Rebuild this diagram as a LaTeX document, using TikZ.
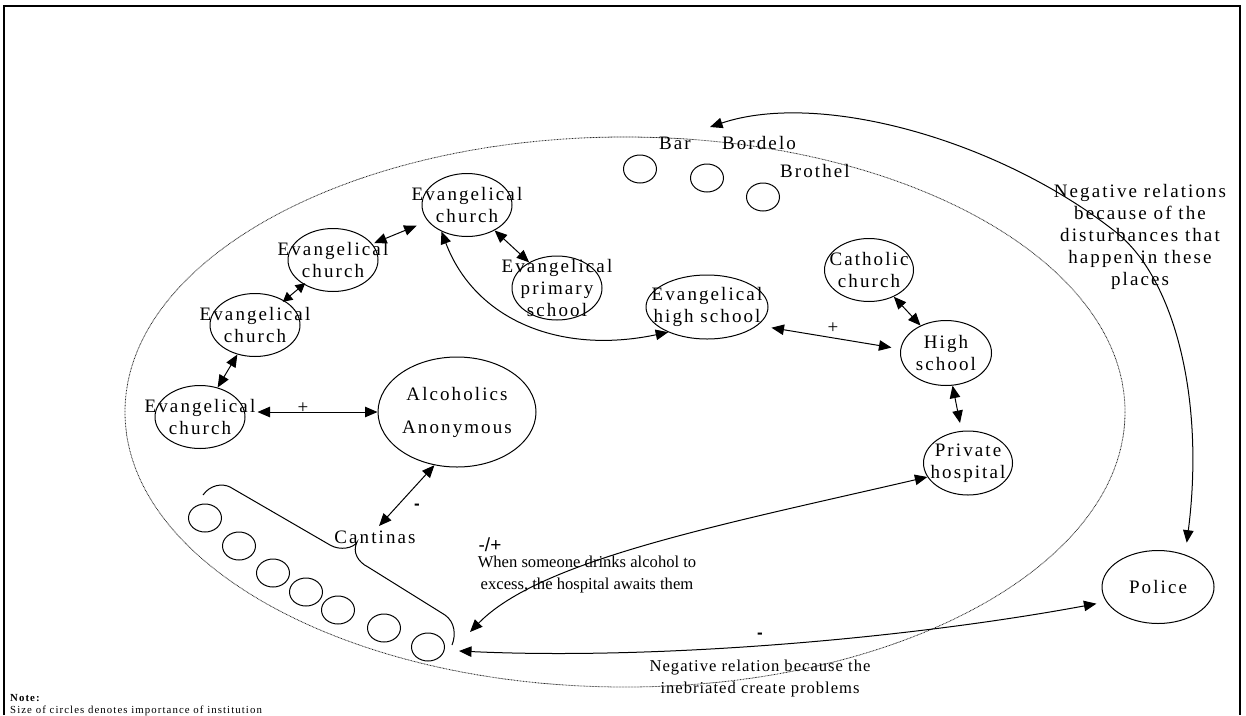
\documentclass[tikz,border=0pt]{standalone}
\usepackage{fontspec}
\setmainfont{Liberation Serif}
\newfontfamily\spc[LetterSpace=11]{Liberation Serif}
\newfontfamily\spcsmall[LetterSpace=10]{Liberation Serif}
\newfontfamily\spcnote[LetterSpace=6]{Liberation Serif}
\newfontfamily\signfont{Liberation Sans}
\usetikzlibrary{shapes.geometric,arrows.meta}

\begin{document}
\begin{tikzpicture}[x=1pt,y=-1pt,
  inst/.style 2 args={ellipse,draw,line width=1pt,inner sep=0pt,minimum width=#1,minimum height=#2},
  spot/.style={ellipse,draw,line width=1pt,inner sep=0pt,minimum width=33,minimum height=28},
  txt/.style={align=center,inner sep=0pt,font=\spc\fontsize{19}{22}\selectfont},
  note/.style={align=center,inner sep=0pt,font=\fontsize{16.6}{22}\selectfont},
  sign/.style={inner sep=0pt,font=\signfont\fontsize{17}{18}\selectfont},
  link/.style={line width=1pt,{Triangle[length=12.5pt,width=10.5pt]}-{Triangle[length=12.5pt,width=10.5pt]}},
  shortlink/.style={line width=1pt,{Triangle[length=9.5pt,width=10pt]}-{Triangle[length=9.5pt,width=10pt]}}]
\useasboundingbox (0,0) rectangle (1246,715);
% frame and the neighbourhood
\draw[line width=2pt] (4,715) |- (1240,6) -- (1240,715);
\draw[line width=0.8pt,black!85,dash pattern=on 0.8pt off 0.7pt] (625,412) ellipse [x radius=500,y radius=275];

% institutions
\node[inst={90}{63},label={[txt]center:{Evangelical\\church}}] (ev1) at (200,417) {};
\node[inst={90}{63},label={[txt]center:{Evangelical\\church}}] (ev2) at (255,325) {};
\node[inst={90}{63},label={[txt]center:{Evangelical\\church}}] (ev3) at (333,260) {};
\node[inst={90}{63},label={[txt]center:{Evangelical\\church}}] (ev4) at (467,205) {};
\node[inst={90}{64},label={[txt]center:{Evangelical\\primary\\school}}] (evp) at (557,288) {};
\node[inst={122}{64},label={[txt]center:{Evangelical\\high school}}] (evh) at (707,307) {};
\node[inst={89}{63},label={[txt]center:{Catholic\\church}}] (cath) at (869,270) {};
\node[inst={91}{65},label={[txt]center:{High\\school}}] (hs) at (946,353) {};
\node[inst={89}{64},label={[txt]center:{Private\\hospital}}] (ph) at (968,463) {};
\node[inst={158}{110},label={[txt,font=\spc\fontsize{19}{33}\selectfont]center:{Alcoholics\\Anonymous}}] (aa) at (457,412) {};
\node[inst={112}{73},label={[txt]center:Police}] (pol) at (1158,587) {};

% bars
\node[spot] (barc) at (640,169) {};
\node[spot] (bordc) at (707,178) {};
\node[spot] (brothc) at (763,197) {};
\node[txt] (bar) at (675,143) {Bar};
\node[txt] (bordelo) at (759,143) {Bordelo};
\node[txt] (brothel) at (815,171) {Brothel};
\coordinate (bartip) at (710,127);

% cantinas
\foreach \x/\y [count=\i] in {205/518,239/546,273/573,306/592,338/610,384/628,428/647}
  \node[spot] (c\i) at (\x,\y) {};
\draw[line width=1pt] (203,495) .. controls (210,485) and (222,483) .. (230,487) -- (330,545)
  .. controls (340,551) and (354,548) .. (357,542) .. controls (352,552) and (358,562) .. (368,567)
  -- (445,615) .. controls (455,622) and (456,635) .. (452,645);
\node[txt] (cant) at (375,537) {Cantinas};
\coordinate (cantA) at (470,632);
\coordinate (cantB) at (459,651);

% relations
\draw[link] (ev1) -- (ev2);
\draw[shortlink,shorten <=-2pt,shorten >=-2pt] (ev2) -- (ev3);
\draw[link,shorten <=2pt,shorten >=12pt] (ev3) -- (ev4);
\draw[link] (ev4) -- (evp);
\draw[link] ([xshift=12pt]aa.west -| ev1.east) -- (aa.west);
\draw[link] (ev4.226) .. controls (475,320) and (560,355) .. (evh.213);
\draw[link,shorten <=14pt,shorten >=9pt] (evh.-20) -- (hs.175);
\draw[link] (cath) -- (hs);
\draw[link,shorten >=8pt] (hs) -- (ph);
\draw[link,shorten >=6pt] (aa.247) -- (cant.north);
\draw[link] (ph.199) .. controls (720,525) and (540,560) .. (cantA);
\draw[link,shorten >=10pt] (cantB) .. controls (650,660) and (900,640) .. (pol.196);
\draw[link,shorten >=12pt] (bartip) .. controls (820,90) and (1000,140) .. (1117,233)
  .. controls (1175,280) and (1205,400) .. (pol.50);

% signs and notes
\node[txt] (plus1) at (303,408) {+};
\node[txt] (plus2) at (833,328) {+};
\node[sign] (minus1) at (417,507) {\textbf{-}};
\node[sign,font=\signfont\fontsize{19}{20}\selectfont] (mixed) at (490,545) {-/+};
\node[note] (drinks) at (587,574) {When someone drinks alcohol to\\excess, the hospital awaits them};
\node[sign] (minus2) at (760,636) {\textbf{-}};
\node[note,font=\spcnote\fontsize{16.6}{22}\selectfont] (inebr) at (760,678) {Negative relation because the\\inebriated create problems};
\node[txt] (disturb) at (1140,237) {Negative relations\\because of the\\disturbances that\\happen in these\\places};
\node[anchor=north west,align=left,inner sep=0pt,font=\spcsmall\fontsize{10.8}{12}\selectfont] (note) at (10,694) {\textbf{Note:}\\Size of circles denotes importance of institution};
\end{tikzpicture}
\end{document}
